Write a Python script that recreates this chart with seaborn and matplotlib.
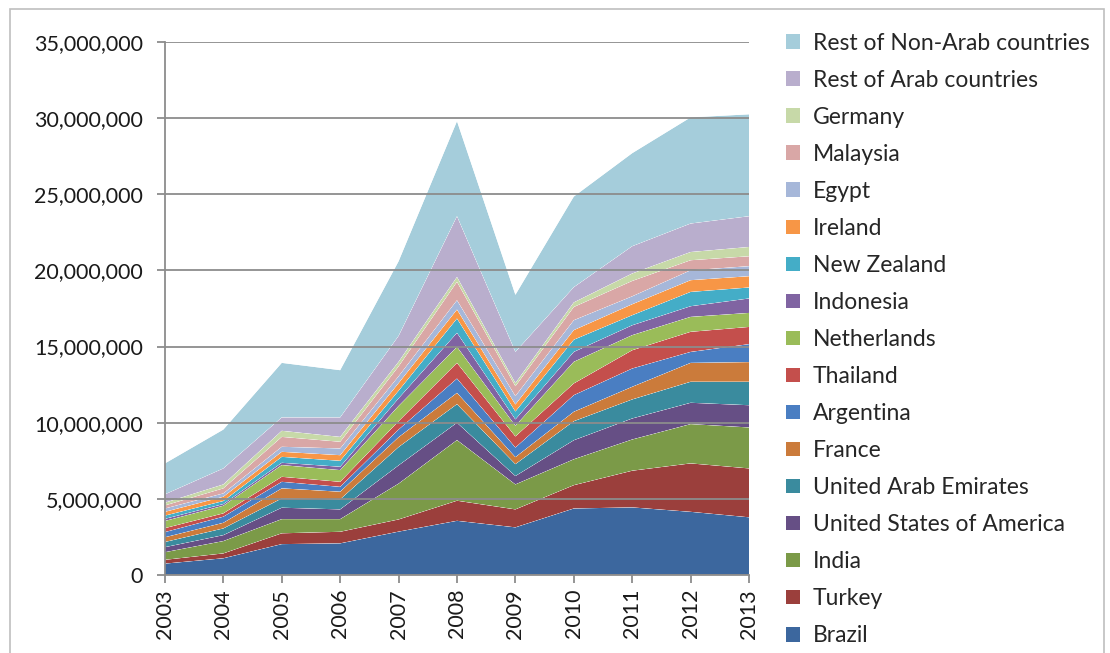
import numpy as np
import pandas as pd
import matplotlib
matplotlib.use("Agg")
import matplotlib.pyplot as plt
from matplotlib.patches import Patch, Rectangle
from matplotlib.ticker import FuncFormatter, MultipleLocator
import seaborn as sns
import seaborn.objects as so

years = [2003, 2004, 2005, 2006, 2007, 2008, 2009, 2010, 2011, 2012, 2013]

# values in millions (stack order: bottom -> top)
brazil       = [0.75, 1.10, 2.03, 2.08, 2.85, 3.56, 3.13, 4.37, 4.44, 4.15, 3.79]
turkey       = [0.25, 0.32, 0.71, 0.76, 0.80, 1.32, 1.18, 1.53, 2.41, 3.18, 3.21]
india        = [0.50, 0.81, 0.93, 0.83, 2.35, 3.98, 1.64, 1.70, 2.05, 2.58, 2.69]
usa          = [0.33, 0.39, 0.75, 0.64, 1.20, 1.14, 0.55, 1.25, 1.38, 1.40, 1.46]
uae          = [0.34, 0.44, 0.61, 0.66, 1.20, 1.22, 0.78, 1.25, 1.25, 1.38, 1.54]
france       = [0.31, 0.37, 0.66, 0.50, 0.65, 0.74, 0.46, 0.62, 0.83, 1.24, 1.29]
argentina    = [0.34, 0.40, 0.43, 0.32, 0.50, 0.94, 0.63, 1.09, 1.20, 0.72, 1.18]
thailand     = [0.26, 0.22, 0.33, 0.33, 0.55, 1.03, 0.73, 0.77, 1.20, 1.32, 1.13]
netherlands  = [0.47, 0.50, 0.77, 0.77, 1.00, 1.05, 0.70, 1.42, 0.99, 0.98, 0.92]
indonesia    = [0.14, 0.11, 0.15, 0.22, 0.50, 0.92, 0.42, 0.65, 0.65, 0.70, 0.95]
new_zealand  = [0.21, 0.20, 0.39, 0.39, 0.50, 0.94, 0.52, 0.80, 0.66, 0.94, 0.72]
ireland      = [0.25, 0.28, 0.33, 0.37, 0.50, 0.59, 0.46, 0.63, 0.72, 0.77, 0.74]
egypt        = [0.22, 0.22, 0.33, 0.44, 0.45, 0.61, 0.55, 0.65, 0.52, 0.65, 0.66]
malaysia     = [0.20, 0.33, 0.65, 0.44, 0.65, 1.21, 0.65, 0.87, 1.01, 0.66, 0.65]
germany      = [0.18, 0.26, 0.40, 0.32, 0.30, 0.32, 0.20, 0.30, 0.49, 0.54, 0.61]
rest_arab    = [0.55, 1.05, 0.88, 1.28, 1.70, 3.99, 2.05, 1.00, 1.79, 1.87, 2.02]
rest_nonarab = [2.03, 2.55, 3.58, 3.10, 4.90, 6.24, 3.75, 5.95, 6.11, 6.97, 6.69]

countries = ["Brazil", "Turkey", "India", "United States of America",
             "United Arab Emirates", "France", "Argentina", "Thailand",
             "Netherlands", "Indonesia", "New Zealand", "Ireland", "Egypt",
             "Malaysia", "Germany", "Rest of Arab countries",
             "Rest of Non-Arab countries"]
series = [brazil, turkey, india, usa, uae, france, argentina, thailand,
          netherlands, indonesia, new_zealand, ireland, egypt, malaysia,
          germany, rest_arab, rest_nonarab]
colors = ["#3C679E", "#9B3F3C", "#7B9A48", "#664F85", "#3A8B9E", "#CB7B3B",
          "#4A7EC2", "#C44F4C", "#9ABC59", "#8064A2", "#44ADC7", "#F79646",
          "#A6B7D9", "#D9A7A6", "#C7D9A8", "#B9AECD", "#A5CDDB"]

rows = []
for yi, yr in enumerate(years):
    for c, s in zip(countries, series):
        rows.append({"year": yr, "country": c, "value": s[yi] * 1e6})
df = pd.DataFrame(rows)

sns.set_style("white")
plt.rcParams["font.family"] = ["Lato", "DejaVu Sans"]

fig = plt.figure(figsize=(11.10, 6.53), dpi=100)
ax = fig.add_axes([0.1486, 0.1194, 0.6748 - 0.1486, 0.9357 - 0.1194])

palette = dict(zip(countries, colors))
(
    so.Plot(df, x="year", y="value", color="country")
    .add(so.Area(alpha=1, edgewidth=0), so.Stack(), legend=False)
    .scale(color=so.Nominal(palette, order=countries))
    .on(ax)
    .plot()
)

ax.set_xlim(2003, 2013)
ax.set_ylim(0, 35e6)
ax.yaxis.set_major_locator(MultipleLocator(5e6))
ax.yaxis.set_major_formatter(FuncFormatter(lambda v, p: f"{v:,.0f}"))
ax.set_xticks(years)
ax.set_xticklabels([str(y) for y in years], rotation=90)
ax.set_xlabel("")
ax.set_ylabel("")
ax.grid(axis="y", color="#8C8C8C", linewidth=1.3)
ax.grid(axis="x", visible=False)
ax.set_axisbelow(False)
for g in ax.get_ygridlines():
    g.set_zorder(0.5)
for sp in ["top", "right"]:
    ax.spines[sp].set_visible(False)
for sp in ["left", "bottom"]:
    ax.spines[sp].set_visible(True)
    ax.spines[sp].set_color("#8C8C8C")
    ax.spines[sp].set_linewidth(1.3)
ax.tick_params(axis="both", which="major", direction="out", length=6,
               width=1.3, color="#8C8C8C", labelsize=15.5, labelcolor="#1a1a1a",
               bottom=True, left=True)
ax.tick_params(axis="y", pad=10)
ax.tick_params(axis="x", pad=4)
ax.set_facecolor("white")

handles = [Patch(facecolor=c, edgecolor="none") for c in colors][::-1]
labels = countries[::-1]
fig.legend(handles, labels, loc="upper left", bbox_to_anchor=(0.700, 0.964),
           frameon=False, fontsize=16.5, handlelength=0.6, handleheight=0.6,
           handletextpad=0.55, labelspacing=0.70, borderaxespad=0)

fig.patches.append(Rectangle((0.009, -0.01), 0.986, 0.996, transform=fig.transFigure,
                             fill=False, edgecolor="#BFBFBF", linewidth=1.2))

fig.savefig("out.png", dpi=100, facecolor="white")
